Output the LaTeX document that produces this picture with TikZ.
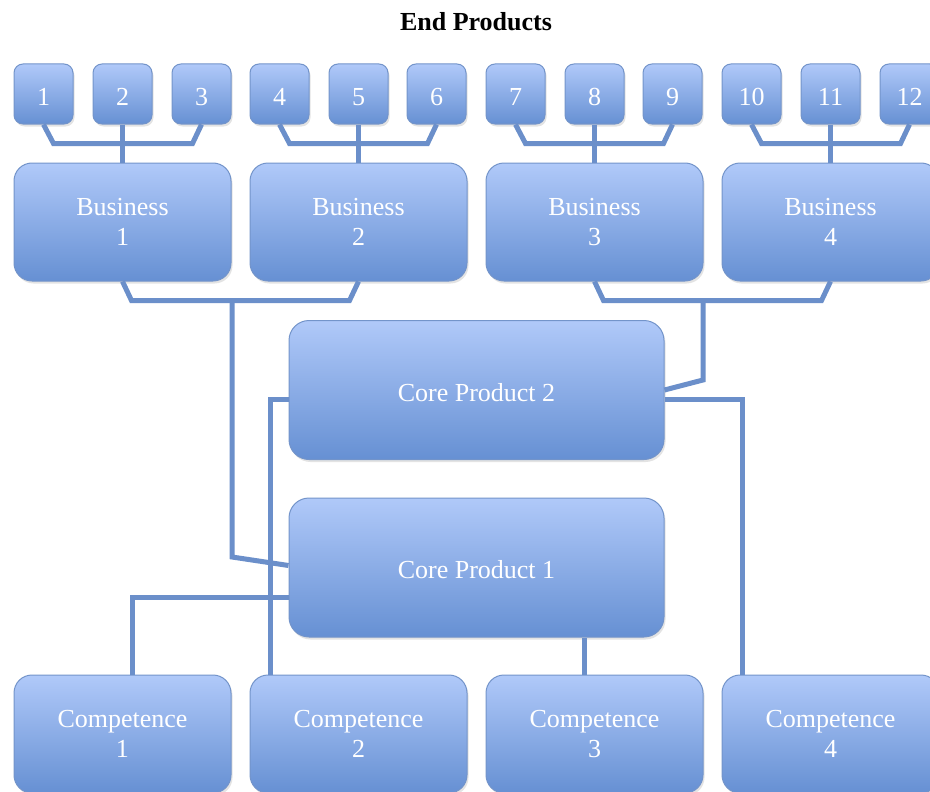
\documentclass[tikz,border=0pt]{standalone}
\usepackage{fontspec}
\setmainfont{Liberation Serif}
\usetikzlibrary{shadows}
\definecolor{boxtop}{HTML}{B0C9F9}
\definecolor{boxbot}{HTML}{6690D3}
\definecolor{boxline}{HTML}{7394CA}
\definecolor{conn}{HTML}{6B8FCA}
\tikzset{
  basebox/.style={draw=boxline, line width=1pt, top color=boxtop, bottom color=boxbot,
    text=white, inner sep=0pt, align=center, font=\fontsize{26}{30}\selectfont,
    drop shadow={opacity=0.22, shadow xshift=1.5pt, shadow yshift=-2.5pt}},
  smallbox/.style={basebox, minimum width=59pt, minimum height=60pt, rounded corners=9pt,
    text height=23pt, text depth=0pt},
  bigbox/.style={basebox, minimum width=217pt, minimum height=118pt, rounded corners=18pt},
  corebox/.style={basebox, minimum width=375pt, minimum height=139pt, rounded corners=20pt,
    text height=22pt, text depth=0pt},
  link/.style={draw=conn, line width=5pt, line join=miter},
}
\begin{document}
\begin{tikzpicture}[x=1pt,y=-1pt]
\useasboundingbox (0,0) rectangle (930,792);
\clip (0,0) rectangle (930,792);
\fill[white] (0,0) rectangle (930,792);
\node[font=\bfseries\fontsize{26}{30}\selectfont] (title) at (476,22) {End Products};
% small boxes
\foreach \i/\x in {1/43.5,2/122.5,3/201.5,4/279.5,5/358.5,6/436.5,7/515.5,8/594.5,9/672.5,10/751.5,11/830.5,12/909.5}{
  \node[smallbox] (s\i) at (\x,94) {\i};
}
% business
\node[bigbox] (b1) at (122.5,222) {Business\\1};
\node[bigbox] (b2) at (358.5,222) {Business\\2};
\node[bigbox] (b3) at (594.5,222) {Business\\3};
\node[bigbox] (b4) at (830.5,222) {Business\\4};
% core products
\node[corebox] (cp2) at (476.5,390) {Core Product 2};
\node[corebox] (cp1) at (476.5,567.5) {Core Product 1};
% competences
\node[bigbox] (c1) at (122.5,734) {Competence\\1};
\node[bigbox] (c2) at (358.5,734) {Competence\\2};
\node[bigbox] (c3) at (594.5,734) {Competence\\3};
\node[bigbox] (c4) at (830.5,734) {Competence\\4};
% small box connectors
\foreach \a/\b/\c/\bb in {1/2/3/b1,4/5/6/b2,7/8/9/b3,10/11/12/b4}{
  \draw[link] (s\a.south) -- ([xshift=10pt,yshift=-19pt]s\a.south) -- ([xshift=-9pt,yshift=-19pt]s\c.south) -- (s\c.south);
  \draw[link] (s\b.south) -- (\bb.north);
}
% business connectors
\coordinate (j12) at (232,300);
\coordinate (j34) at (703,300);
\draw[link] (b1.south) -- ([xshift=9pt,yshift=-19pt]b1.south) -- ([xshift=-9pt,yshift=-19pt]b2.south) -- (b2.south);
\draw[link] (b3.south) -- ([xshift=9pt,yshift=-19pt]b3.south) -- ([xshift=-9pt,yshift=-19pt]b4.south) -- (b4.south);
\draw[link] (j12) -- (232,557) -- ([yshift=2pt]cp1.west);
\draw[link] (j34) -- (703,380) -- (cp2.east);
% competence connectors
\draw[link] ([xshift=10pt]c1.north) |- ([yshift=-29.5pt]cp1.west);
\draw[link] ([xshift=-88pt]c2.north) |- ([yshift=-9pt]cp2.west);
\draw[link] ([xshift=-10pt]c3.north) -- ([xshift=108pt]cp1.south);
\draw[link] ([xshift=-88pt]c4.north) |- ([yshift=-9pt]cp2.east);
\end{tikzpicture}
\end{document}
